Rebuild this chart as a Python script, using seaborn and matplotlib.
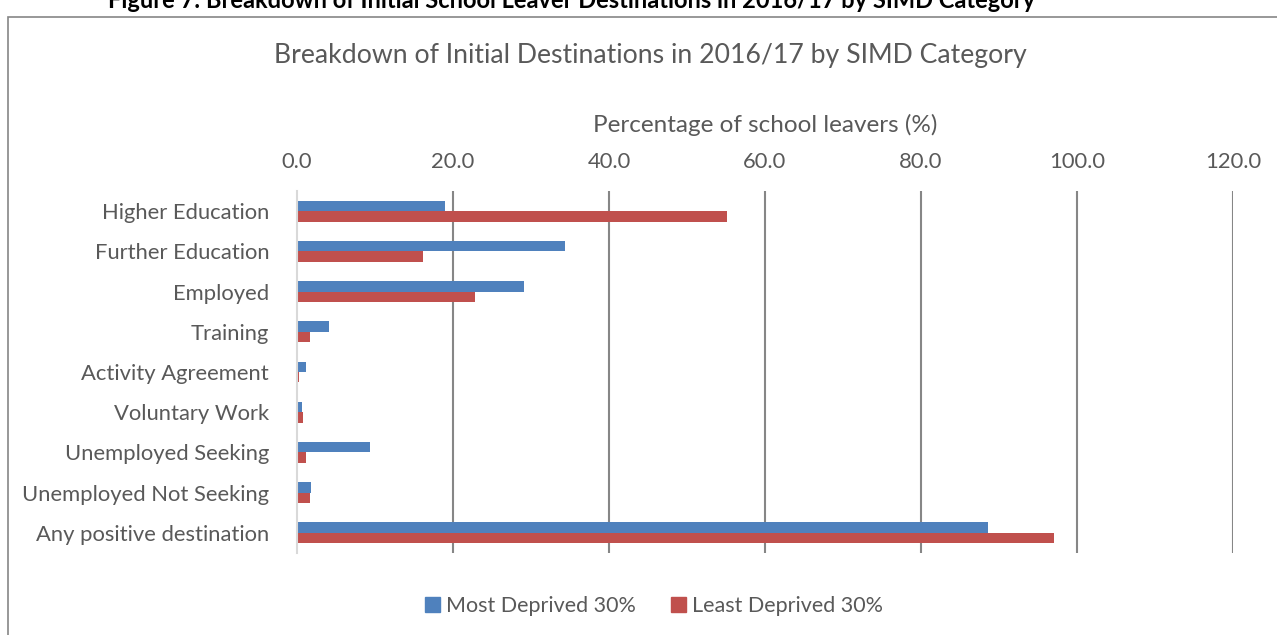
import numpy as np
import pandas as pd
import seaborn as sns
import matplotlib.pyplot as plt
from matplotlib.patches import Rectangle

categories = ['Higher Education', 'Further Education', 'Employed', 'Training',
              'Activity Agreement', 'Voluntary Work', 'Unemployed Seeking',
              'Unemployed Not Seeking', 'Any positive destination']
most_deprived = [19.0, 34.4, 29.1, 4.1, 1.1, 0.6, 9.4, 1.8, 88.6]
least_deprived = [55.1, 16.1, 22.8, 1.7, 0.2, 0.8, 1.1, 1.7, 97.1]
groups = ['Most Deprived 30%', 'Least Deprived 30%']
xticks = [0, 20, 40, 60, 80, 100, 120]

df = pd.DataFrame({
    'category': categories * 2,
    'pct': most_deprived + least_deprived,
    'group': [groups[0]] * len(categories) + [groups[1]] * len(categories),
})

sns.set_theme(style="white")
plt.rcParams['font.family'] = ['Lato', 'DejaVu Sans']
text_col = '#595959'
colors = ['#4F81BD', '#C0504D']

fig = plt.figure(figsize=(12.77, 6.35), dpi=100)
ax = fig.add_axes([297 / 1277, 1 - 553 / 635, 936 / 1277, 362 / 635])

sns.barplot(data=df, y='category', x='pct', hue='group', orient='h',
            palette=colors, saturation=1, width=0.52, ax=ax, legend=False, linewidth=0)

ax.set_xlim(0, 120)
ax.set_xticks(xticks)
ax.set_xticklabels([f'{t:.1f}' for t in xticks])
ax.xaxis.tick_top()
ax.xaxis.set_label_position('top')
ax.tick_params(axis='x', length=0, pad=14, labelsize=15.8, labelcolor=text_col)
ax.tick_params(axis='y', length=0, pad=20, labelsize=15.8, labelcolor=text_col)
ax.set_xlabel('Percentage of school leavers (%)', fontsize=17.5, color=text_col, labelpad=14)
ax.set_ylabel('')
for t in xticks[1:]:
    ax.axvline(t, color='#868686', lw=1.5, zorder=0)
for s in ['top', 'right', 'bottom']:
    ax.spines[s].set_visible(False)
ax.spines['left'].set_color('#d9d9d9')
ax.spines['left'].set_linewidth(1.5)

fig.text(650 / 1277, 1 - 55 / 635, 'Breakdown of Initial Destinations in 2016/17 by SIMD Category',
         ha='center', va='center', fontsize=19.2, color=text_col)
fig.text(108 / 1277, 1 - 1 / 635,
         'Figure 7: Breakdown of Initial School Leaver Destinations in 2016/17 by SIMD Category',
         ha='left', va='center', fontsize=17, fontweight='bold', color='black')

fig.patches.append(Rectangle((8 / 1277, -0.1), 1.2, 1 - 17 / 635 + 0.1,
                             transform=fig.transFigure, fill=False,
                             edgecolor='#868686', lw=1.2))

handles = [Rectangle((0, 0), 1, 1, color=c) for c in colors]
leg = fig.legend(handles, groups, loc='center', bbox_to_anchor=(654 / 1277, 1 - 606 / 635),
                 ncol=2, frameon=False, fontsize=15.5, handlelength=0.7, handleheight=0.7,
                 handletextpad=0.3, columnspacing=1.6)
for t in leg.get_texts():
    t.set_color(text_col)

fig.savefig('out.png', dpi=100)
